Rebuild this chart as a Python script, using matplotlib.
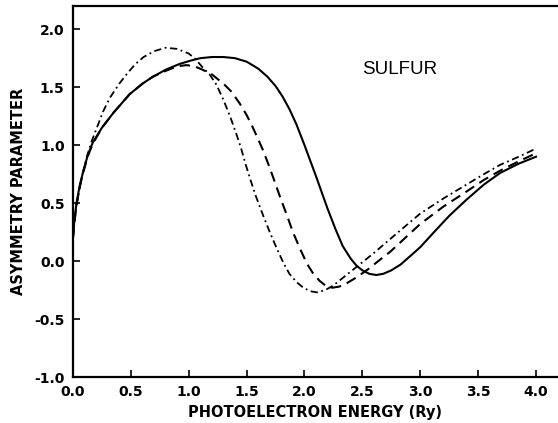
import matplotlib
matplotlib.use('Agg')
import matplotlib.pyplot as plt

# curves (solid, dashed, dash-dot)
x_solid = [0, 0.01, 0.03, 0.06, 0.09, 0.13, 0.17, 0.25, 0.35, 0.49, 0.60, 0.69, 0.80, 0.92,
           1.02, 1.10, 1.20, 1.30, 1.40, 1.50, 1.60, 1.68, 1.75, 1.81, 1.87, 1.93, 2.00, 2.10,
           2.20, 2.27, 2.33, 2.40, 2.45, 2.50, 2.56, 2.62, 2.68, 2.75, 2.83, 2.91, 3.00, 3.11,
           3.25, 3.40, 3.55, 3.69, 3.85, 4.00]
y_solid = [0.20, 0.33, 0.50, 0.66, 0.78, 0.92, 1.02, 1.15, 1.28, 1.44, 1.53, 1.59, 1.65, 1.70,
           1.73, 1.75, 1.76, 1.76, 1.75, 1.72, 1.66, 1.59, 1.51, 1.42, 1.31, 1.18, 1.00, 0.73,
           0.45, 0.27, 0.13, 0.02, -0.04, -0.08, -0.11, -0.12, -0.11, -0.08, -0.03, 0.04, 0.12, 0.24,
           0.39, 0.53, 0.66, 0.76, 0.84, 0.90]

x_dash = [0, 0.01, 0.03, 0.06, 0.09, 0.13, 0.17, 0.25, 0.35, 0.49, 0.60, 0.69, 0.80, 0.90,
          0.98, 1.05, 1.12, 1.20, 1.30, 1.37, 1.44, 1.50, 1.55, 1.60, 1.64, 1.69, 1.73, 1.79,
          1.85, 1.90, 1.96, 2.02, 2.07, 2.13, 2.18, 2.24, 2.30, 2.35, 2.45, 2.55, 2.65, 2.74,
          2.87, 3.00, 3.20, 3.40, 3.55, 3.69, 3.85, 4.00]
y_dash = [0.20, 0.32, 0.48, 0.65, 0.77, 0.91, 1.01, 1.15, 1.28, 1.44, 1.53, 1.59, 1.64, 1.68,
          1.69, 1.68, 1.65, 1.61, 1.53, 1.46, 1.36, 1.26, 1.16, 1.05, 0.96, 0.83, 0.72, 0.55,
          0.39, 0.25, 0.11, -0.02, -0.10, -0.17, -0.21, -0.23, -0.22, -0.20, -0.14, -0.07, 0.01, 0.08,
          0.20, 0.32, 0.47, 0.60, 0.70, 0.78, 0.86, 0.93]

x_dashdot = [0, 0.01, 0.03, 0.06, 0.09, 0.12, 0.16, 0.21, 0.26, 0.32, 0.40, 0.47, 0.54, 0.61,
             0.70, 0.80, 0.90, 1.00, 1.06, 1.12, 1.18, 1.24, 1.30, 1.36, 1.41, 1.45, 1.49, 1.53,
             1.58, 1.64, 1.70, 1.76, 1.82, 1.87, 1.93, 1.99, 2.05, 2.11, 2.18, 2.25, 2.35, 2.45,
             2.60, 2.74, 2.87, 3.00, 3.20, 3.40, 3.55, 3.69, 3.85, 4.00]
y_dashdot = [0.20, 0.30, 0.48, 0.64, 0.78, 0.90, 1.03, 1.16, 1.29, 1.41, 1.53, 1.62, 1.70, 1.76,
             1.81, 1.84, 1.83, 1.79, 1.74, 1.67, 1.61, 1.52, 1.39, 1.24, 1.10, 0.98, 0.84, 0.71,
             0.56, 0.40, 0.25, 0.11, -0.02, -0.11, -0.18, -0.23, -0.26, -0.27, -0.25, -0.21, -0.13, -0.05,
             0.07, 0.19, 0.30, 0.41, 0.54, 0.66, 0.75, 0.83, 0.90, 0.97]

x_ticks = [0.0, 0.5, 1.0, 1.5, 2.0, 2.5, 3.0, 3.5, 4.0]
y_ticks = [-1.0, -0.5, 0.0, 0.5, 1.0, 1.5, 2.0]

plt.rcParams['font.family'] = ['DejaVu Sans']

fig = plt.figure(figsize=(5.58, 4.23), dpi=100)
ax = fig.add_axes([0.1308, 0.1087, 0.8692, 0.8771])

ax.plot(x_solid, y_solid, color='black', lw=1.5, ls='-')
ax.plot(x_dash, y_dash, color='black', lw=1.5, ls=(0, (5, 3)))
ax.plot(x_dashdot, y_dashdot, color='black', lw=1.3, ls=(0, (4, 2, 1, 2)))

ax.set_xlim(0, 4.19)
ax.set_ylim(-1.0, 2.2)
ax.set_xticks(x_ticks)
ax.set_yticks(y_ticks)
ax.set_xticklabels(['%.1f' % v for v in x_ticks], fontsize=10, fontweight='bold')
ax.set_yticklabels(['%.1f' % v for v in y_ticks], fontsize=10, fontweight='bold')
ax.tick_params(direction='in', length=5, width=1.2, pad=6)

ax.spines['right'].set_visible(False)
for s in ['top', 'bottom', 'left']:
    ax.spines[s].set_linewidth(1.6)

ax.set_xlabel('PHOTOELECTRON ENERGY (Ry)', fontsize=10.5, fontweight='bold', labelpad=4)
ax.set_ylabel('ASYMMETRY PARAMETER', fontsize=10.5, fontweight='bold', labelpad=6)
ax.text(2.82, 1.65, 'SULFUR', fontsize=13.5, ha='center', va='center', family='Liberation Sans')

fig.savefig('out.png', dpi=100)
